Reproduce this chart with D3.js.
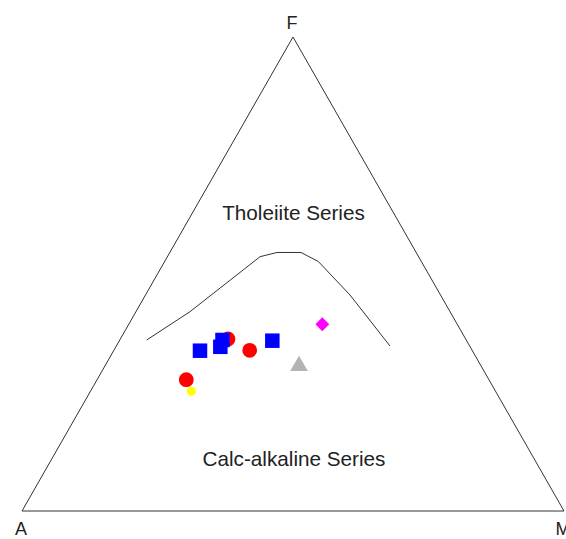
<!DOCTYPE html>
<html>
<head>
<meta charset="utf-8">
<script src="https://cdn.jsdelivr.net/npm/d3@7"></script>
<style>
  html, body { margin: 0; padding: 0; background: #ffffff; }
  svg { display: block; }
  text { font-family: "Liberation Sans", Arial, sans-serif; fill: #222; }
</style>
</head>
<body>
<svg id="chart" width="566" height="539"></svg>
<script>
// ---- Data (percent A / F / M) ----
const vertexLabels = ["A", "F", "M"];
const fieldLabels = ["Tholeiite Series", "Calc-alkaline Series"];

// Irvine & Baragar (1971) boundary
const boundaryA = [58.95, 47.98, 29.26, 25.68, 21.25, 19.01, 16.7, 14.7];
const boundaryF = [36.08, 42.05, 53.65, 54.54, 54.54, 52.64, 45.57, 34.81];
const boundaryM = [4.97, 9.97, 17.09, 19.78, 24.21, 28.35, 37.73, 50.5];

// Samples
const redA = [43.85, 41.04, 55.84];
const redF = [36.29, 33.90, 27.70];
const redM = [19.86, 25.06, 16.46];

const yellowA = [56.14];
const yellowF = [25.25];
const yellowM = [18.61];

const blueA = [50.25, 46.09, 44.97, 35.85];
const blueF = [33.82, 34.64, 36.08, 35.93];
const blueM = [15.93, 19.27, 18.95, 28.22];

const magentaA = [24.90];
const magentaF = [39.39];
const magentaM = [35.71];

const grayA = [33.60];
const grayF = [30.59];
const grayM = [35.81];

// ---- Layout ----
const svg = d3.select("#chart");
const plotLeft = 22, plotRight = 564, plotBottom = 511, plotTop = 37;

// x: ternary horizontal coordinate (M + F/2), y: F fraction
const x = d3.scaleLinear().domain([0, 1]).range([plotLeft, plotRight]);
const y = d3.scaleLinear().domain([0, 1]).range([plotBottom, plotTop]);

function proj(a, f, m) {
  const s = a + f + m;
  const F = f / s, M = m / s;
  return [x(M + F / 2), y(F)];
}
function pts(A, F, M) { return A.map((a, i) => proj(a, F[i], M[i])); }

// Triangle frame
const frame = [proj(100, 0, 0), proj(0, 100, 0), proj(0, 0, 100)];
svg.append("path")
  .attr("d", d3.line()(frame) + "Z")
  .attr("fill", "none")
  .attr("stroke", "#333")
  .attr("stroke-width", 1);

// Vertex labels
const vlab = [
  { t: vertexLabels[0], p: proj(100, 0, 0), dy: 24 },
  { t: vertexLabels[1], p: proj(0, 100, 0), dy: -8 },
  { t: vertexLabels[2], p: proj(0, 0, 100), dy: 24 }
];
svg.selectAll("text.vl").data(vlab).enter().append("text")
  .attr("class", "vl")
  .attr("x", d => d.p[0] - 1)
  .attr("y", d => d.p[1] + d.dy)
  .attr("text-anchor", "middle")
  .attr("font-size", 18)
  .text(d => d.t);

// Boundary curve
svg.append("path")
  .attr("d", d3.line()(pts(boundaryA, boundaryF, boundaryM)))
  .attr("fill", "none")
  .attr("stroke", "#333")
  .attr("stroke-width", 1);

// Field labels
svg.append("text").attr("x", 293.5).attr("y", 220)
  .attr("text-anchor", "middle").attr("font-size", 20.7).text(fieldLabels[0]);
svg.append("text").attr("x", 294).attr("y", 466)
  .attr("text-anchor", "middle").attr("font-size", 20.7).text(fieldLabels[1]);

// Points
const series = [
  { p: pts(redA, redF, redM), type: d3.symbolCircle, size: Math.PI * 7.4 * 7.4, color: "#ff0000", rot: 0 },
  { p: pts(yellowA, yellowF, yellowM), type: d3.symbolCircle, size: Math.PI * 4.6 * 4.6, color: "#ffff00", rot: 0 },
  { p: pts(blueA, blueF, blueM), type: d3.symbolSquare, size: 14.5 * 14.5, color: "#0000ff", rot: 0 },
  { p: pts(magentaA, magentaF, magentaM), type: d3.symbolSquare, size: 9.8 * 9.8, color: "#ff00ff", rot: 45 },
  { p: pts(grayA, grayF, grayM), type: d3.symbolTriangle, size: 135, color: "#b3b3b3", rot: 0 }
];
series.forEach(s => {
  svg.append("g").selectAll("path").data(s.p).enter().append("path")
    .attr("d", d3.symbol().type(s.type).size(s.size)())
    .attr("transform", d => `translate(${d[0]},${d[1]}) rotate(${s.rot})`)
    .attr("fill", s.color);
});
</script>
</body>
</html>
